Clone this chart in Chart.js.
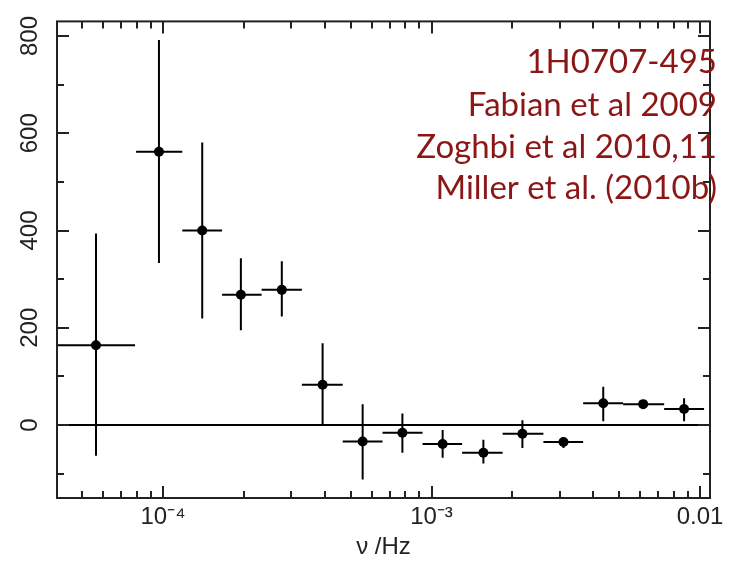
<!DOCTYPE html>
<html>
<head>
<meta charset="utf-8">
<title>1H0707-495 lag spectrum</title>
<script src="https://cdn.jsdelivr.net/npm/chart.js@4.4.1/dist/chart.umd.min.js"></script>
<style>
    html, body { margin: 0; padding: 0; background: #fff; }
    canvas { display: block; }
</style>
</head>
<body>
<canvas id="lag-chart" width="729" height="564"></canvas>
<script>
// Frequency bins (Hz): centre, lower and upper edge
const freq   = [5.63e-5, 9.66e-5, 1.40e-4, 1.95e-4, 2.77e-4, 3.93e-4, 5.54e-4, 7.79e-4, 1.10e-3, 1.56e-3, 2.18e-3, 3.10e-3, 4.36e-3, 6.14e-3, 8.72e-3];
const freqLo = [4.00e-5, 7.94e-5, 1.18e-4, 1.66e-4, 2.33e-4, 3.29e-4, 4.67e-4, 6.57e-4, 9.26e-4, 1.30e-3, 1.84e-3, 2.61e-3, 3.67e-3, 5.17e-3, 7.35e-3];
const freqHi = [7.87e-5, 1.18e-4, 1.66e-4, 2.33e-4, 3.29e-4, 4.67e-4, 6.57e-4, 9.26e-4, 1.30e-3, 1.84e-3, 2.61e-3, 3.67e-3, 5.17e-3, 7.35e-3, 1.035e-2];

// Lag values with lower / upper end of the error bar
const lag   = [164, 562, 400, 268, 278, 83, -34, -16, -39, -57, -18, -35, 45, 43, 33];
const lagLo = [-63, 333, 219, 195, 223, 0, -112, -57, -67, -79, -47, -47, 8, 37, 8];
const lagHi = [394, 792, 581, 343, 337, 168, 43, 24, -10, -30, 10, -26, 79, 49, 55];

// Axis ticks
const xTicks      = [5e-5, 6e-5, 7e-5, 8e-5, 9e-5, 1e-4, 2e-4, 3e-4, 4e-4, 5e-4, 6e-4, 7e-4, 8e-4, 9e-4,
                     1e-3, 2e-3, 3e-3, 4e-3, 5e-3, 6e-3, 7e-3, 8e-3, 9e-3, 1e-2];
const xMajorTicks = [1e-4, 1e-3, 1e-2];
const xTickLabels = ['10\u207B\u2074', '10\u207B\u00B3', '0.01'];
const yTicks      = [-100, 0, 100, 200, 300, 400, 500, 600, 700, 800];
const yMajorTicks = [0, 200, 400, 600, 800];
const yTickLabels = ['0', '200', '400', '600', '800'];

const annotationLines = ['1H0707-495', 'Fabian et al 2009', 'Zoghbi et al 2010,11', 'Miller et al. (2010b)'];

const INK      = '#000000';
const AXIS_INK = '#222222';
const RED      = 'rgb(140, 22, 22)';
const SANS     = '"Liberation Sans", Arial, sans-serif';

/**
 * Cherche l'index d'une valeur dans une liste de ticks (tolérance relative).
 */
function findTick(list, v) {
    return list.findIndex((t) => Math.abs(t - v) <= Math.abs(t) * 1e-6 + 1e-12);
}

const framePlugin = {
    id: 'frame',
    beforeDatasetsDraw(chart) {
        const { ctx, chartArea: a, scales: { x, y } } = chart;
        ctx.save();
        ctx.beginPath();
        ctx.rect(a.left, a.top, a.right - a.left, a.bottom - a.top);
        ctx.clip();
        ctx.strokeStyle = INK;
        ctx.lineWidth = 2;

        // ligne du zéro
        const y0 = y.getPixelForValue(0);
        ctx.beginPath();
        ctx.moveTo(a.left, y0);
        ctx.lineTo(a.right, y0);
        ctx.stroke();

        // barres d'erreur
        freq.forEach((f, i) => {
            const px = x.getPixelForValue(f);
            const py = y.getPixelForValue(lag[i]);
            ctx.beginPath();
            ctx.moveTo(x.getPixelForValue(freqLo[i]), py);
            ctx.lineTo(x.getPixelForValue(freqHi[i]), py);
            ctx.moveTo(px, y.getPixelForValue(lagLo[i]));
            ctx.lineTo(px, y.getPixelForValue(lagHi[i]));
            ctx.stroke();
        });
        ctx.restore();
    },
    afterDraw(chart) {
        const { ctx, chartArea: a, scales: { x, y } } = chart;
        ctx.save();
        ctx.strokeStyle = AXIS_INK;
        ctx.lineWidth = 2;
        ctx.strokeRect(a.left, a.top, a.right - a.left, a.bottom - a.top);

        // petits traits vers l'intérieur sur les quatre côtés
        ctx.beginPath();
        x.ticks.forEach((t) => {
            const px = Math.round(x.getPixelForValue(t.value));
            const len = findTick(xMajorTicks, t.value) >= 0 ? 12 : 7;
            ctx.moveTo(px, a.bottom);
            ctx.lineTo(px, a.bottom - len);
            ctx.moveTo(px, a.top);
            ctx.lineTo(px, a.top + len);
        });
        y.ticks.forEach((t) => {
            if (findTick(yTicks, t.value) < 0) return;
            const py = Math.round(y.getPixelForValue(t.value));
            const len = findTick(yMajorTicks, t.value) >= 0 ? 12 : 7;
            ctx.moveTo(a.left, py);
            ctx.lineTo(a.left + len, py);
            ctx.moveTo(a.right, py);
            ctx.lineTo(a.right - len, py);
        });
        ctx.stroke();

        // références
        ctx.fillStyle = RED;
        ctx.font = '33px Lato, "Open Sans", sans-serif';
        ctx.textAlign = 'right';
        ctx.textBaseline = 'alphabetic';
        const baselines = [73, 116, 158, 199];
        annotationLines.forEach((line, i) => ctx.fillText(line, 717, baselines[i]));
        ctx.restore();
    },
};

const ctx = document.getElementById('lag-chart').getContext('2d');

new Chart(ctx, {
    type: 'scatter',
    data: {
        datasets: [{
            data: freq.map((f, i) => ({ x: f, y: lag[i] })),
            backgroundColor: INK,
            borderWidth: 0,
            pointRadius: 5,
            pointHoverRadius: 5,
        }],
    },
    options: {
        responsive: false,
        animation: false,
        events: [],
        layout: { padding: { top: 14, right: 19, left: 0, bottom: 0 } },
        plugins: {
            legend: { display: false },
            tooltip: { enabled: false },
        },
        scales: {
            x: {
                type: 'logarithmic',
                min: 4.03e-5,
                max: 1.089e-2,
                grid: { display: false, drawTicks: false },
                border: { display: false },
                afterBuildTicks: (s) => { s.ticks = xTicks.map((v) => ({ value: v })); },
                afterFit: (s) => { s.height = 66; },
                ticks: {
                    autoSkip: false,
                    maxRotation: 0,
                    padding: 5,
                    color: AXIS_INK,
                    font: { family: SANS, size: 24 },
                    callback: (v) => {
                        const k = findTick(xMajorTicks, v);
                        return k >= 0 ? xTickLabels[k] : '';
                    },
                },
                title: {
                    display: true,
                    text: '\u03BD /Hz',
                    color: AXIS_INK,
                    font: { family: SANS, size: 24 },
                    padding: { top: 0, bottom: 2 },
                },
            },
            y: {
                min: -150,
                max: 830,
                grid: { display: false, drawTicks: false },
                border: { display: false },
                afterBuildTicks: (s) => { s.ticks = yTicks.map((v) => ({ value: v })); },
                afterFit: (s) => { s.width = 57; },
                ticks: {
                    autoSkip: false,
                    minRotation: 90,
                    maxRotation: 90,
                    crossAlign: 'center',
                    padding: 7,
                    color: AXIS_INK,
                    font: { family: SANS, size: 24 },
                    callback: (v) => {
                        const k = findTick(yMajorTicks, v);
                        return k >= 0 ? yTickLabels[k] : '';
                    },
                },
            },
        },
    },
    plugins: [framePlugin],
});
</script>
</body>
</html>
